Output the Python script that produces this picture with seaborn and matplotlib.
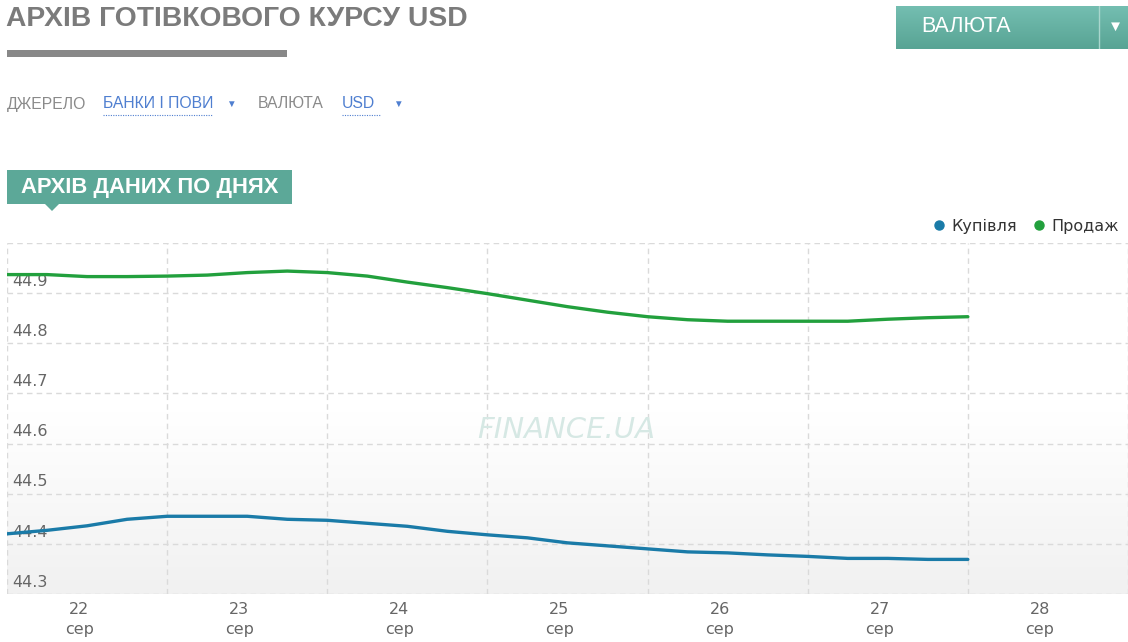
import numpy as np
import pandas as pd
import matplotlib
matplotlib.use("Agg")
import matplotlib.pyplot as plt
import seaborn as sns
from matplotlib.lines import Line2D
from matplotlib.patches import Rectangle, Polygon
import matplotlib.transforms as mtransforms

# ---------------- data ----------------
days = ["22", "23", "24", "25", "26", "27", "28"]
month_label = "сер"
# quarter-day observations from 22 Sep 00:00 to 28 Sep 00:00
t_days = [i * 0.25 for i in range(25)]
buy = [44.420, 44.427, 44.436, 44.449, 44.455, 44.455, 44.455, 44.449, 44.447,
       44.441, 44.435, 44.425, 44.418, 44.412, 44.402, 44.396, 44.390, 44.384,
       44.382, 44.378, 44.375, 44.371, 44.371, 44.369, 44.369]
sell = [44.937, 44.937, 44.933, 44.933, 44.934, 44.936, 44.941, 44.944, 44.941,
        44.934, 44.922, 44.911, 44.899, 44.886, 44.873, 44.862, 44.853, 44.847,
        44.844, 44.844, 44.844, 44.844, 44.848, 44.851, 44.853]
series_names = ["Купівля", "Продаж"]
y_ticks = [44.3, 44.4, 44.5, 44.6, 44.7, 44.8, 44.9, 45.0]
y_tick_labels = ["44.3", "44.4", "44.5", "44.6", "44.7", "44.8", "44.9"]

title = "АРХІВ ГОТІВКОВОГО КУРСУ USD"
subtitle_box = "АРХІВ ДАНИХ ПО ДНЯХ"
button_text = "ВАЛЮТА"

df = pd.DataFrame({
    "t": t_days * 2,
    "value": buy + sell,
    "series": [series_names[0]] * len(buy) + [series_names[1]] * len(sell),
})

# ---------------- style ----------------
sns.set_theme(style="white")
plt.rcParams["font.family"] = ["DejaVu Sans"]
BLUE = "#1a7ba8"
GREEN = "#22a03d"
GRID = "#dadada"
W, H = 1128, 642

fig = plt.figure(figsize=(W / 100, H / 100), dpi=100)
fig.patch.set_facecolor("white")

def fx(px):
    return px / W

def fy(py):
    return 1 - py / H

ax = fig.add_axes([fx(7), fy(594), fx(1128) - fx(7), fy(243) - fy(594)])
ax.set_xlim(0, 7)
ax.set_ylim(44.3, 45.0)

# background gradient inside plot area
grad = np.ones((256, 1, 3))
yy = np.linspace(45.0, 44.3, 256)
shade = np.clip((44.66 - yy) / (44.66 - 44.3), 0, 1)
for c in range(3):
    grad[:, 0, c] = 1 - shade * (1 - 0.945)
ax.imshow(grad, extent=[0, 7, 44.3, 45.0], aspect="auto", zorder=0, interpolation="bilinear")

# grid
for yv in y_ticks:
    ax.axhline(yv, color=GRID, lw=1, ls=(0, (4, 3)), zorder=1)
for d in range(8):
    ax.axvline(d, color=GRID, lw=1, ls=(0, (4, 3)), zorder=1)

# watermark
ax.text(3.49, 44.628, "FINANCE.UA", ha="center", va="center", fontsize=21,
        style="italic", color="#d6e8e4", family="DejaVu Sans", zorder=1.5)

# y labels inside plot, above gridlines
blend = mtransforms.blended_transform_factory(ax.transAxes, ax.transData)
for yv, lab in zip(y_ticks, y_tick_labels):
    ax.text(5 / (1128 - 7), yv + 0.0235, lab,
            transform=blend, ha="left", va="center", fontsize=11.5,
            color="#666666", zorder=2)

sns.lineplot(data=df, x="t", y="value", hue="series",
             palette={series_names[0]: BLUE, series_names[1]: GREEN},
             linewidth=2.4, ax=ax, legend=False, zorder=3)

# axes cosmetics
for s in ax.spines.values():
    s.set_visible(False)
ax.set_xlabel("")
ax.set_ylabel("")
ax.set_yticks([])
ax.set_xticks(range(8))
ax.set_xticklabels([""] * 8)
ax.tick_params(axis="x", which="major", length=8, width=1, color=GRID, direction="out")
ax.set_xticks([i + 0.45 for i in range(7)], minor=True)
ax.set_xticklabels([f"{d}\n{month_label}" for d in days], minor=True,
                   fontsize=11.5, color="#666666", linespacing=1.35)
ax.tick_params(axis="x", which="minor", length=0, pad=6)

# legend
handles = [Line2D([0], [0], marker="o", ls="", color=BLUE, markersize=6.5),
           Line2D([0], [0], marker="o", ls="", color=GREEN, markersize=6.5)]
leg = fig.legend(handles, series_names, loc="center right",
                 bbox_to_anchor=(fx(1119), fy(226)), ncol=2, frameon=False,
                 fontsize=11.5, handlelength=0.7, handletextpad=0.45,
                 columnspacing=1.0, borderpad=0, borderaxespad=0)
for t in leg.get_texts():
    t.set_color("#333333")

# ---------------- page header ----------------
fig.text(fx(6), fy(19), title, ha="left", va="center", fontsize=20.3,
         weight="bold", color="#7b7b7b", family=["Liberation Sans", "DejaVu Sans"])
fig.patches.append(Rectangle((fx(7), fy(57)), fx(287) - fx(7), fy(50) - fy(57),
                             transform=fig.transFigure, color="#888888", lw=0))

lab_font = ["Liberation Sans", "DejaVu Sans"]
fig.text(fx(7), fy(104), "ДЖЕРЕЛО", ha="left", va="center", fontsize=11.3,
         color="#8a8a8a", family=lab_font)
fig.text(fx(103), fy(104), "БАНКИ І ПОВИ", ha="left", va="center", fontsize=11.3,
         color="#4f7fd0", family=lab_font)
fig.add_artist(Line2D([fx(103), fx(213)], [fy(115), fy(115)], color="#4f7fd0",
                      lw=0.8, ls=(0, (1, 1.2)), transform=fig.transFigure))
fig.text(fx(231), fy(104), "▼", ha="center", va="center", fontsize=7,
         color="#4f7fd0", family=lab_font)
fig.text(fx(258), fy(104), "ВАЛЮТА", ha="left", va="center", fontsize=11.3,
         color="#8a8a8a", family=lab_font)
fig.text(fx(342), fy(104), "USD", ha="left", va="center", fontsize=11.3,
         color="#4f7fd0", family=lab_font)
fig.add_artist(Line2D([fx(342), fx(381)], [fy(115), fy(115)], color="#4f7fd0",
                      lw=0.8, ls=(0, (1, 1.2)), transform=fig.transFigure))
fig.text(fx(398), fy(104), "▼", ha="center", va="center", fontsize=7,
         color="#4f7fd0", family=lab_font)

# teal section box
TEAL = "#5ca898"
fig.patches.append(Rectangle((fx(7), fy(204)), fx(292) - fx(7), fy(170) - fy(204),
                             transform=fig.transFigure, color=TEAL, lw=0))
fig.patches.append(Polygon([(fx(44), fy(203)), (fx(60), fy(203)), (fx(52), fy(211))],
                           closed=True, transform=fig.transFigure, color=TEAL, lw=0))
fig.text(fx(21), fy(188), subtitle_box, ha="left", va="center", fontsize=15.8,
         weight="bold", color="white", family=lab_font)

# button with gradient
bax = fig.add_axes([fx(896), fy(49), fx(1128) - fx(896), fy(6) - fy(49)])
bg = np.zeros((64, 1, 3))
top = np.array([0x74, 0xbe, 0xb1]) / 255
bot = np.array([0x58, 0xa4, 0x94]) / 255
for i in range(64):
    bg[i, 0] = top + (bot - top) * i / 63
bax.imshow(bg, extent=[0, 1, 0, 1], aspect="auto", interpolation="bilinear")
bax.set_axis_off()
bax.add_line(Line2D([(1099 - 896) / 232] * 2, [0, 1], color="#a9d6cd", lw=1))
fig.text(fx(921), fy(27), button_text, ha="left", va="center", fontsize=15.5,
         color="white", family=lab_font)
fig.text(fx(1115), fy(27), "▼", ha="center", va="center", fontsize=11,
         color="white", family=lab_font)

fig.savefig("out.png", dpi=100, facecolor="white")
